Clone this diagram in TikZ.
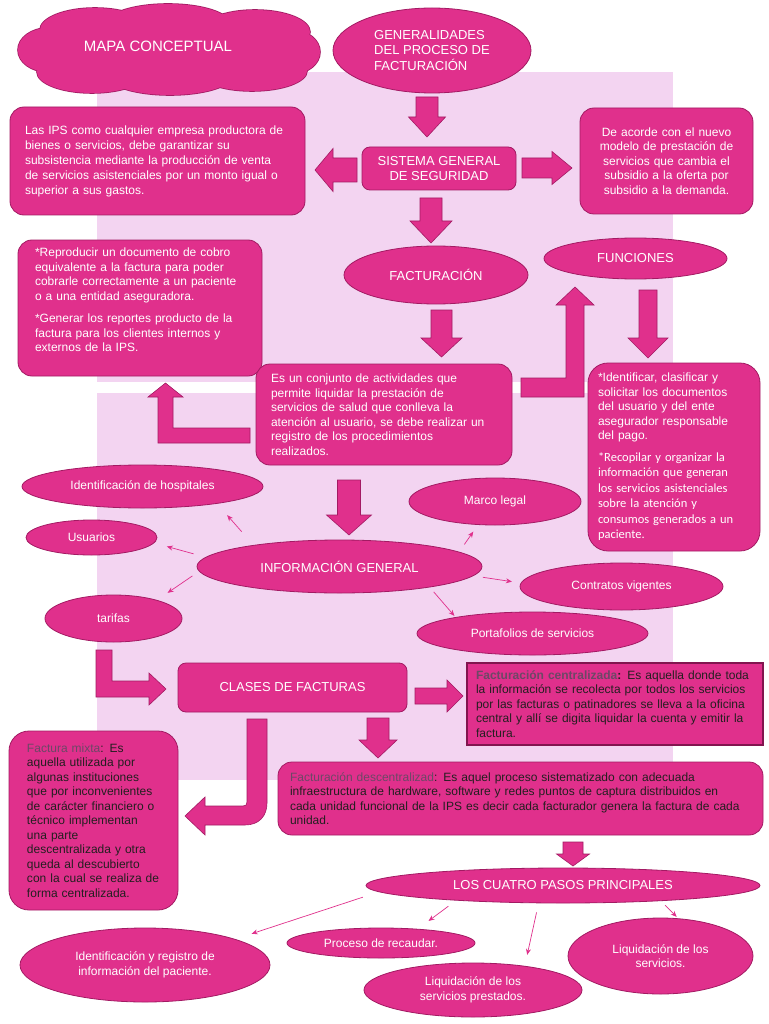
\documentclass[tikz,border=0pt]{standalone}
\usepackage{fontspec}
\setmainfont{Liberation Sans}
\newfontfamily\calibri{Carlito}
\usetikzlibrary{shapes.geometric, arrows.meta, positioning, calc}
\definecolor{rosaFuerte}{HTML}{E0308C}
\definecolor{bordeRosa}{HTML}{A31A63}
\definecolor{fondoRosa}{HTML}{F3D4F1}
\definecolor{grisLabel}{HTML}{6C4866}
\definecolor{negroTexto}{HTML}{231F20}
\tikzset{pics/bloque/.style n args={4}{code={
    \path[gruesa] (0,{-#2/2}) -- ({#1-#4},{-#2/2}) -- ({#1-#4},{-#3/2}) -- (#1,0)
        -- ({#1-#4},{#3/2}) -- ({#1-#4},{#2/2}) -- (0,{#2/2}) -- cycle;}}}

\begin{document}
\begin{tikzpicture}[x=1pt, y=-1pt, font=\fontsize{12}{14.5}\selectfont, >=Stealth,
        caja/.style={draw=bordeRosa, fill=rosaFuerte, text=white, rounded corners=14pt,
            inner sep=0pt, align=left, line width=0.8pt},
        recto/.style={draw=bordeRosa!80!black, fill=rosaFuerte, text=negroTexto,
            inner sep=0pt, align=left, line width=1.2pt},
        ovalo/.style={ellipse, draw=bordeRosa, fill=rosaFuerte, text=white, inner sep=0pt,
            align=center, line width=0.8pt},
        titulo/.style={font=\fontsize{13}{15.5}\selectfont},
        gruesa/.style={draw=bordeRosa, fill=rosaFuerte, line width=0.6pt},
        fina/.style={rosaFuerte, line width=0.7pt, -{Stealth[length=6pt, width=5pt]}}]
    \useasboundingbox (0,0) rectangle (768,1024);
    \fill[white] (0,0) rectangle (768,1024);
    \fill[fondoRosa] (97,72) rectangle (673,382);
    \fill[fondoRosa] (97,393) rectangle (673,780);

    % nube del titulo
    \foreach \cx/\cy/\rx/\ry in {95/30/55/22, 168/24/62/20, 255/32/55/22, 48/50/30/22,
            292/52/28/22, 92/72/55/21, 170/76/62/19, 252/71/55/20, 169/50/130/30}
        \draw[bordeRosa, line width=1.6pt] (\cx,\cy) ellipse [x radius=\rx, y radius=\ry];
    \foreach \cx/\cy/\rx/\ry in {95/30/55/22, 168/24/62/20, 255/32/55/22, 48/50/30/22,
            292/52/28/22, 92/72/55/21, 170/76/62/19, 252/71/55/20, 169/50/130/30}
        \fill[rosaFuerte] (\cx,\cy) ellipse [x radius=\rx, y radius=\ry];
    \node[text=white, font=\fontsize{15}{17}\selectfont] (mapa) at (158,46) {MAPA CONCEPTUAL};

    % parte superior
    \node[ovalo, titulo, align=left, minimum width=198, minimum height=85] (gen) at (432,50.5)
        {GENERALIDADES\\DEL PROCESO DE\\FACTURACIÓN};
    \node[caja, titulo, rounded corners=8pt, align=center, minimum width=154, minimum height=43]
        (sgs) at (439,168.5) {SISTEMA GENERAL\\DE SEGURIDAD};
    \node[caja, font=\fontsize{12}{15}\selectfont, minimum width=295, minimum height=108,
        text width=265] (ips) at (157.5,161)
        {Las IPS como cualquier empresa productora de\\bienes o servicios, debe garantizar su\\subsistencia mediante la producción de venta\\de servicios asistenciales por un monto igual o\\superior a sus gastos.};
    \node[caja, align=center, minimum width=173, minimum height=106, text width=150]
        (acorde) at (666.5,161)
        {De acorde con el nuevo\\modelo de prestación de\\servicios que cambia el\\subsidio a la oferta por\\subsidio a la demanda.};
    \node[ovalo, titulo, minimum width=184, minimum height=58] (fac) at (436,275) {FACTURACIÓN};
    \node[ovalo, titulo, minimum width=183, minimum height=41] (fun) at (635.5,258.5) {FUNCIONES};
    \node[caja, minimum width=244, minimum height=136, text width=210] (repro) at (140,308)
        {*Reproducir un documento de cobro\\equivalente a la factura para poder\\cobrarle correctamente a un paciente\\o a una entidad aseguradora.\par\vspace{8pt}*Generar los reportes producto de la\\factura para los clientes internos y\\externos de la IPS.\rule[-16pt]{0pt}{16pt}};
    \node[caja, minimum width=256, minimum height=101, text width=226] (conj) at (384,414.5)
        {Es un conjunto de actividades que\\permite liquidar la prestación de\\servicios de salud que conlleva la\\atención al usuario, se debe realizar un\\registro de los procedimientos\\realizados.};
    \node[caja, rounded corners=20pt, minimum width=172, minimum height=188, text width=152]
        (ident) at (674,457)
        {*Identificar, clasificar y\\solicitar los documentos\\del usuario y del ente\\asegurador responsable\\del pago.\par\vspace{6pt}{\calibri\fontsize{12.5}{15.5}\selectfont *Recopilar y organizar la\\información que generan\\los servicios asistenciales\\sobre la atención y\\consumos generados a un\\paciente.\par}};

    % informacion general
    \node[ovalo, titulo, minimum width=285, minimum height=53] (info) at (339.5,566.5) {INFORMACIÓN GENERAL};
    \node[ovalo, minimum width=241, minimum height=43] (hosp) at (142.5,486.5) {Identificación de hospitales};
    \node[ovalo, minimum width=131, minimum height=35] (usu) at (91.5,537.5) {Usuarios};
    \node[ovalo, minimum width=137, minimum height=47] (tar) at (113.5,618.5) {tarifas};
    \node[ovalo, minimum width=172, minimum height=47] (marco) at (495,501.5) {Marco legal};
    \node[ovalo, minimum width=203, minimum height=47] (contr) at (621.5,586.5) {Contratos vigentes};
    \node[ovalo, minimum width=231, minimum height=43] (porta) at (532.5,633.5) {Portafolios de servicios};

    % clases de facturas
    \node[caja, titulo, rounded corners=8pt, minimum width=229, minimum height=49] (clases)
        at (292.5,687.5) {CLASES DE FACTURAS};
    \node[recto, minimum width=296, minimum height=82, text width=278] (centr) at (615,704)
        {\textcolor{grisLabel}{\textbf{Facturación centralizada}}\textbf{:} Es aquella donde toda\\la información se recolecta por todos los servicios\\por las facturas o patinadores se lleva a la oficina\\central y allí se digita liquidar la cuenta y emitir la\\factura.};
    \node[caja, text=negroTexto, minimum width=485, minimum height=73, text width=461] (descen)
        at (520.5,798.5)
        {\textcolor{grisLabel}{Facturación descentralizad}: Es aquel proceso sistematizado con adecuada\\infraestructura de hardware, software y redes puntos de captura distribuidos en\\cada unidad funcional de la IPS es decir cada facturador genera la factura de cada\\unidad.};
    \node[caja, text=negroTexto, rounded corners=20pt, minimum width=169, minimum height=179,
        text width=133] (mixta) at (93.5,820.5)
        {\textcolor{grisLabel}{Factura mixta}: Es\\aquella utilizada por\\algunas instituciones\\que por inconvenientes\\de carácter financiero o\\técnico implementan\\una parte\\descentralizada y otra\\queda al descubierto\\con la cual se realiza de\\forma centralizada.};

    % pasos
    \node[ovalo, titulo, minimum width=394, minimum height=35] (pasos) at (563,885.5) {LOS CUATRO PASOS PRINCIPALES};
    \node[ovalo, minimum width=250, minimum height=74] (regis) at (145,965)
        {Identificación y registro de\\información del paciente.};
    \node[ovalo, minimum width=188, minimum height=30] (recau) at (381,943) {Proceso de recaudar.};
    \node[ovalo, minimum width=218, minimum height=54] (liqpre) at (473,990)
        {Liquidación de los\\servicios prestados.};
    \node[ovalo, minimum width=185, minimum height=76] (liqser) at (660.5,956)
        {Liquidación de los\\servicios.};

    % flechas de bloque
    \pic[rotate=-90] at (427,97) {bloque={40}{22}{37}{20}};
    \pic[rotate=180] at (357,170) {bloque={42}{24}{43}{18}};
    \pic at (522,168) {bloque={50}{20}{33}{20}};
    \pic[rotate=-90] at (431,198) {bloque={45}{22}{42}{22}};
    \pic[rotate=-90] at (441.5,310) {bloque={47}{21}{41}{19}};
    \pic[rotate=-90] at (648,290) {bloque={68}{18}{40}{20}};
    \pic[rotate=-90] at (349,480) {bloque={55}{23}{45}{20}};
    \pic at (415,696) {bloque={48}{16}{32}{16}};
    \pic[rotate=-90] at (378,718) {bloque={40}{22}{38}{18}};
    \pic[rotate=-90] at (573,842) {bloque={24}{20}{33}{12}};
    \path[gruesa] (250,443) -- (158,443) -- (158,397) -- (148,397) -- (165.5,383) -- (183,397)
        -- (173,397) -- (173,428) -- (250,428) -- cycle;
    \path[gruesa] (521,378) -- (566,378) -- (566,305) -- (556,305) -- (575,287) -- (594,305)
        -- (584,305) -- (584,397) -- (521,397) -- cycle;
    \path[gruesa] (96,650) -- (112,650) -- (112,681) -- (149,681) -- (149,673) -- (166,689)
        -- (149,705) -- (149,697) -- (96,697) -- cycle;
    \path[gruesa] (247,719) -- (267,719) -- (267,803) .. controls (267,816) and (259,825) .. (245,825)
        -- (205,825) -- (205,835) -- (185,816) -- (205,797) -- (205,806) -- (243,806)
        .. controls (246,806) and (247,805) .. (247,802) -- cycle;

    % flechas finas
    \draw[fina, shorten <=17.7pt, shorten >=15.3pt] (info.166) -- (hosp.347);
    \draw[fina, shorten <=12.4pt, shorten >=13.1pt] (info.176) -- (usu.355);
    \draw[fina, shorten <=8pt, shorten >=12.7pt] (info.182) -- (tar.23);
    \draw[fina, shorten <=8.9pt, shorten >=8.2pt] (info.7) -- (marco.234);
    \draw[fina, shorten <=9.6pt, shorten >=8.9pt] (info.356) -- (contr.178);
    \draw[fina, shorten <=6pt, shorten >=1.7pt] (info.347) -- (porta.168);
    \draw[fina, shorten <=16.8pt, shorten >=17.1pt] (pasos.182) -- (regis.16);
    \draw[fina, shorten <=9.5pt, shorten >=13.2pt] (pasos.188) -- (recau.21);
    \draw[fina, shorten <=9.4pt, shorten >=11.3pt] (pasos.216) -- (liqpre.25);
    \draw[fina, shorten <=5.9pt, shorten >=2pt] (pasos.351) -- (liqser.65);
\end{tikzpicture}
\end{document}
